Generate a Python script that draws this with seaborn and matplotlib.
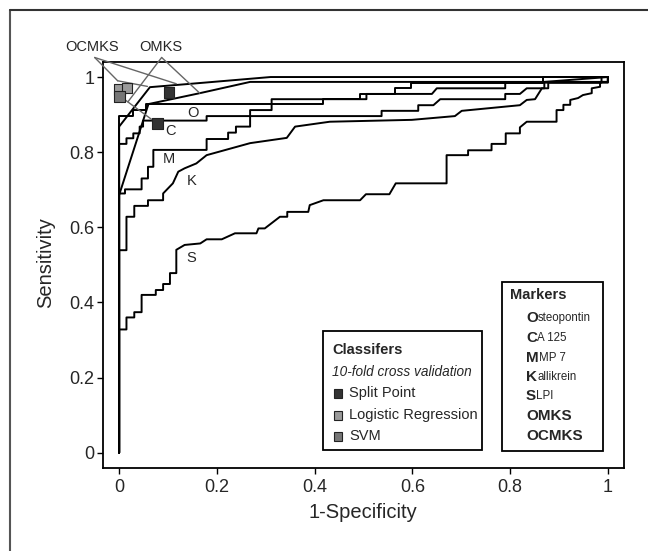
import numpy as np
import pandas as pd
import matplotlib
matplotlib.use("Agg")
import matplotlib.pyplot as plt
import seaborn as sns
from matplotlib.lines import Line2D
from matplotlib.patches import Rectangle

# ---------------- data ----------------
s_fpr = [0, 0, 0.015, 0.015, 0.031, 0.031, 0.046, 0.046, 0.075, 0.075, 0.09, 0.09, 0.104, 0.104,
         0.117, 0.117, 0.134, 0.166, 0.179, 0.21, 0.237, 0.281, 0.285, 0.298, 0.329, 0.344, 0.344,
         0.387, 0.39, 0.418, 0.493, 0.505, 0.553, 0.566, 0.670, 0.670, 0.714, 0.714, 0.762, 0.762,
         0.791, 0.791, 0.820, 0.820, 0.834, 0.895, 0.895, 0.909, 0.909, 0.923, 0.923, 0.939, 0.949,
         0.967, 0.967, 0.984, 0.984, 1.0, 1.0]
s_tpr = [0, 0.328, 0.328, 0.36, 0.36, 0.374, 0.374, 0.42, 0.42, 0.433, 0.433, 0.449, 0.449, 0.478,
         0.478, 0.54, 0.553, 0.557, 0.568, 0.568, 0.584, 0.584, 0.597, 0.597, 0.628, 0.628, 0.641,
         0.641, 0.659, 0.672, 0.672, 0.688, 0.688, 0.717, 0.717, 0.792, 0.792, 0.805, 0.805, 0.822,
         0.822, 0.850, 0.850, 0.866, 0.881, 0.881, 0.912, 0.912, 0.926, 0.926, 0.939, 0.944, 0.952,
         0.957, 0.970, 0.974, 0.987, 0.987, 1.0]

k_fpr = [0, 0, 0.015, 0.015, 0.031, 0.031, 0.059, 0.059, 0.09, 0.09, 0.11, 0.121, 0.134, 0.158,
         0.179, 0.268, 0.343, 0.36, 0.431, 0.599, 0.687, 0.701, 0.82, 0.834, 0.851, 0.865, 0.878,
         0.878, 1.0, 1.0]
k_tpr = [0, 0.539, 0.539, 0.628, 0.628, 0.657, 0.657, 0.672, 0.672, 0.69, 0.717, 0.748, 0.757, 0.77,
         0.792, 0.824, 0.838, 0.868, 0.881, 0.886, 0.896, 0.910, 0.925, 0.939, 0.941, 0.970, 0.970,
         0.985, 0.985, 1.0]

m_fpr = [0, 0, 0.012, 0.012, 0.046, 0.046, 0.059, 0.059, 0.07, 0.07, 0.179, 0.179, 0.223, 0.223,
         0.239, 0.239, 0.268, 0.268, 0.312, 0.312, 0.506, 0.506, 0.64, 0.65, 0.79, 0.79, 0.987, 0.987, 1.0]
m_tpr = [0, 0.69, 0.69, 0.701, 0.701, 0.73, 0.73, 0.761, 0.761, 0.806, 0.806, 0.835, 0.835, 0.852,
         0.852, 0.868, 0.868, 0.912, 0.912, 0.941, 0.941, 0.955, 0.955, 0.970, 0.970, 0.985, 0.985, 1.0, 1.0]

c_fpr = [0, 0, 0.015, 0.015, 0.029, 0.029, 0.042, 0.042, 0.049, 0.049, 0.179, 0.179, 0.537, 0.537,
         0.612, 0.612, 0.643, 0.657, 0.79, 0.79, 0.82, 0.834, 0.87, 0.87, 1.0]
c_tpr = [0, 0.822, 0.822, 0.837, 0.837, 0.85, 0.85, 0.868, 0.868, 0.884, 0.884, 0.896, 0.896, 0.910,
         0.910, 0.925, 0.925, 0.941, 0.941, 0.955, 0.955, 0.970, 0.970, 0.987, 1.0]

o_fpr = [0, 0, 0.029, 0.029, 0.056, 0.056, 0.418, 0.418, 0.493, 0.493, 0.564, 0.564, 0.598, 0.598,
         0.867, 0.867, 1.0]
o_tpr = [0, 0.896, 0.896, 0.912, 0.912, 0.928, 0.928, 0.941, 0.941, 0.955, 0.955, 0.970, 0.970, 0.985,
         0.985, 1.0, 1.0]

omks_fpr = [0, 0, 0.06, 0.165, 0.268, 1.0, 1.0]
omks_tpr = [0, 0.686, 0.928, 0.957, 0.987, 0.987, 1.0]

ocmks_fpr = [0, 0, 0.063, 0.165, 0.31, 1.0]
ocmks_tpr = [0, 0.868, 0.973, 0.984, 1.0, 1.0]

curve_names = ["S", "K", "M", "C", "O", "OMKS", "OCMKS"]
curve_fprs = [s_fpr, k_fpr, m_fpr, c_fpr, o_fpr, omks_fpr, ocmks_fpr]
curve_tprs = [s_tpr, k_tpr, m_tpr, c_tpr, o_tpr, omks_tpr, ocmks_tpr]

# classifier results
clf_type = ["Split Point", "Split Point", "Logistic Regression", "Logistic Regression", "SVM"]
clf_fpr = [0.102, 0.079, 0.0, 0.016, 0.0]
clf_tpr = [0.958, 0.877, 0.967, 0.971, 0.949]
clf_colors = {"Split Point": "#333333", "Logistic Regression": "#9a9a9a", "SVM": "#767676"}

# curve letter labels
lab_text = ["O", "C", "M", "K", "S"]
lab_x = [0.151, 0.106, 0.102, 0.148, 0.147]
lab_y = [0.903, 0.856, 0.781, 0.723, 0.519]

marker_first = ["O", "C", "M", "K", "S", "OMKS", "OCMKS"]
marker_rest = ["steopontin", "A 125", "MP 7", "allikrein", "LPI", "", ""]
clf_items = ["Split Point", "Logistic Regression", "SVM"]

ticks = [0, 0.2, 0.4, 0.6, 0.8, 1.0]
tick_labels = ["0", "0.2", "0.4", "0.6", "0.8", "1"]

# ---------------- figure ----------------
sns.set_style("ticks")
plt.rcParams["font.family"] = ["Liberation Sans", "DejaVu Sans"]

W, H = 648, 551
fig = plt.figure(figsize=(W / 100, H / 100), dpi=100)


def fx(x):
    return x / W


def fy(y):
    return 1 - y / H


ax = fig.add_axes([fx(103), fy(467.7), fx(624) - fx(103), fy(62) - fy(467.7)])

rows = []
for name, xs, ys in zip(curve_names, curve_fprs, curve_tprs):
    for i, (a, b) in enumerate(zip(xs, ys)):
        rows.append({"curve": name, "fpr": a, "tpr": b, "order": i})
df = pd.DataFrame(rows)

sns.lineplot(data=df, x="fpr", y="tpr", units="curve", estimator=None, sort=False,
             color="black", lw=1.4, ax=ax, legend=False)

# gray annotation lines
gcol = "#666666"
ann_lines = [
    ((-0.050, 1.052), (-0.003, 0.99)),
    ((-0.050, 1.052), (0.117, 0.982)),
    ((-0.003, 0.99), (0.058, 0.975)),
    ((0.087, 1.052), (0.018, 0.934)),
    ((0.087, 1.052), (0.165, 0.957)),
    ((0.004, 0.947), (0.073, 0.881)),
]
for (x0, y0), (x1, y1) in ann_lines:
    ax.plot([x0, x1], [y0, y1], color=gcol, lw=1.0, clip_on=False, zorder=3)

cdf = pd.DataFrame({"type": clf_type, "fpr": clf_fpr, "tpr": clf_tpr})
sns.scatterplot(data=cdf, x="fpr", y="tpr", hue="type", palette=clf_colors, marker="s",
                s=60, edgecolor="#222222", linewidth=0.8, ax=ax, legend=False, zorder=5,
                clip_on=False)

for t, x, y in zip(lab_text, lab_x, lab_y):
    ax.text(x, y, t, ha="center", va="center", fontsize=10.5)

ax.text(-0.056, 1.081, "OCMKS", ha="center", va="center", fontsize=10.5, clip_on=False)
ax.text(0.086, 1.081, "OMKS", ha="center", va="center", fontsize=10.5, clip_on=False)

ax.set_xlim(-0.033, 1.033)
ax.set_ylim(-0.04, 1.04)
ax.set_xticks(ticks)
ax.set_xticklabels(tick_labels)
ax.set_yticks(ticks)
ax.set_yticklabels(tick_labels)
ax.tick_params(axis="both", direction="out", length=4, width=1, labelsize=13, color="black")
ax.tick_params(axis="x", pad=4)
ax.tick_params(axis="y", pad=2)
for sp in ax.spines.values():
    sp.set_visible(True)
    sp.set_color("black")
    sp.set_linewidth(1.3)
ax.set_xlabel("")
ax.set_ylabel("")

fig.text(fx(363), fy(513), "1-Specificity", ha="center", va="center", fontsize=14.5)
fig.text(fx(46), fy(263), "Sensitivity", ha="center", va="center", fontsize=14.5, rotation=90)

# outer frame
fig.add_artist(Line2D([fx(10), fx(10)], [fy(10), 0], color="#555555", lw=1.5, transform=fig.transFigure))
fig.add_artist(Line2D([fx(10), 1], [fy(10), fy(10)], color="#333333", lw=1.5, transform=fig.transFigure))

# Classifiers legend box
fig.add_artist(Rectangle((fx(323.3), fy(450)), fx(481.7) - fx(323.3), fy(331) - fy(450),
                         transform=fig.transFigure, fill=False, edgecolor="black", lw=1.3))
fig.text(fx(332), fy(350), "Classifers", ha="left", va="center", fontsize=10.5, weight="bold")
fig.text(fx(332), fy(371.5), "10-fold cross validation", ha="left", va="center", fontsize=9.8,
         style="italic")
for i, name in enumerate(clf_items):
    yc = [393, 415, 436][i]
    fig.add_artist(Rectangle((fx(333.5), fy(yc + 4.5)), fx(9), fy(0) - fy(9),
                             transform=fig.transFigure, facecolor=clf_colors[name],
                             edgecolor="#222222", lw=0.8))
    fig.text(fx(349), fy(yc), name, ha="left", va="center", fontsize=10.5)

# Markers legend box
fig.add_artist(Rectangle((fx(502), fy(451)), fx(602.5) - fx(502), fy(282) - fy(451),
                         transform=fig.transFigure, fill=False, edgecolor="black", lw=1.3))
fig.text(fx(510), fy(295), "Markers", ha="left", va="center", fontsize=10.5, weight="bold")
ys_m = [318, 338, 357.5, 377, 396, 416, 436]
for f, r, yc in zip(marker_first, marker_rest, ys_m):
    t1 = fig.text(fx(526), fy(yc), f, ha="left", va="center", fontsize=11, weight="bold")
    if r:
        ax.annotate(r, xy=(1, 0), xycoords=t1, xytext=(0, 0.6), textcoords="offset points",
                    ha="left", va="bottom", fontsize=8.3, annotation_clip=False)

fig.savefig("out.png", dpi=100)
